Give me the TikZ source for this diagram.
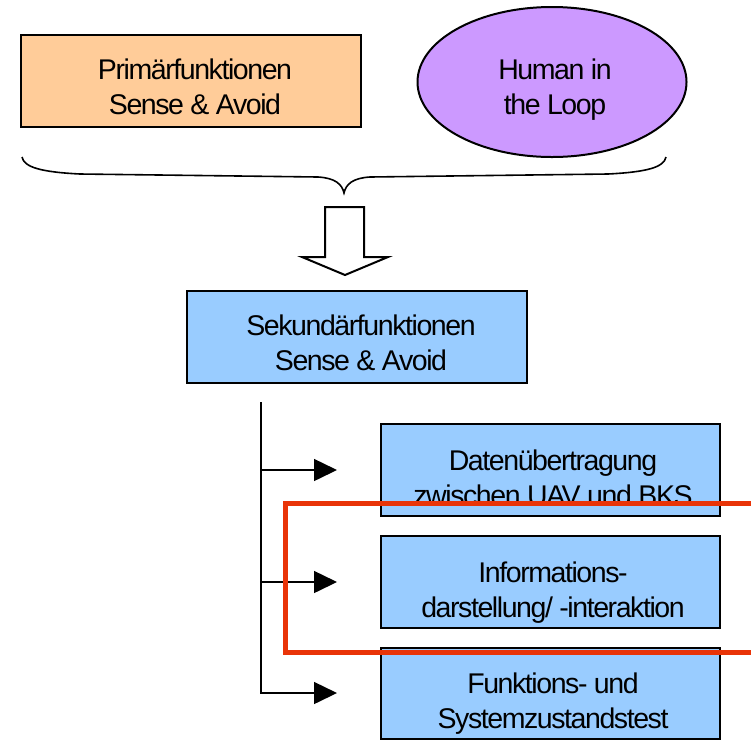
\documentclass[tikz,border=0pt]{standalone}
\usepackage{fontspec}
\setmainfont{Liberation Sans}[LetterSpace=-5]
\usetikzlibrary{arrows.meta,shapes.geometric}
\definecolor{orangefill}{RGB}{255,204,153}
\definecolor{purplefill}{RGB}{204,153,255}
\definecolor{bluefill}{RGB}{153,204,255}
\definecolor{redline}{RGB}{233,52,8}
\newcommand\twolines[2]{\begin{tabular}[t]{@{}c@{}}#1\\#2\end{tabular}}
\begin{document}
\begin{tikzpicture}[x=1pt,y=-1pt,
  box/.style={draw=black, line width=2pt, rectangle, inner sep=0pt, minimum width=340pt, minimum height=92pt},
  lbl/.style={anchor=base, inner sep=0pt, font=\fontsize{28.5}{35}\selectfont},
  conn/.style={line width=1.5pt},
  arr/.style={conn, -{Triangle[length=23pt,width=22pt]}},
  shapeline/.style={line width=2pt, line join=miter},
  highlight/.style={draw=redline, line width=5pt},
]
\useasboundingbox (0,0) rectangle (751,740);
\fill[white] (0,0) rectangle (751,740);

% top row
\node[box, fill=orangefill] (prim) at (191,81) {};
\node[lbl] (primtxt) at (195,79) {\twolines{Primärfunktionen}{Sense \& Avoid}};
\node[draw=black, ellipse, line width=2pt, fill=purplefill, minimum width=269pt, minimum height=150pt, inner sep=0pt] (hil) at (552,82) {};
\node[lbl] (hiltxt) at (555,79) {\twolines{Human in}{the Loop}};

% brace
\draw[line width=1.6pt] (22,157) .. controls (24,167) and (40,172) .. (80,174) -- (318,177)
  .. controls (335,178) and (342,184) .. (344,193)
  .. controls (346,184) and (353,178) .. (370,177) -- (608,174)
  .. controls (648,172) and (664,167) .. (666,157);

% hollow down arrow
\draw[shapeline, fill=white] (325,207) -- (364,207) -- (364,257) -- (388,257) -- (345,275) -- (302,257) -- (325,257) -- cycle;

% secondary box
\node[box, fill=bluefill] (sek) at (357,337) {};
\node[lbl] (sektxt) at (361,335) {\twolines{Sekundärfunktionen}{Sense \& Avoid}};

% sub boxes
\node[box, fill=bluefill, minimum width=339pt] (b1) at (550.5,470) {};
\node[lbl] (b1txt) at (553,470) {\twolines{Datenübertragung}{zwischen UAV und BKS}};
\node[box, fill=bluefill, minimum width=339pt] (b2) at (550.5,582) {};
\node[lbl] (b2txt) at (553,582) {\twolines{Informations-}{darstellung/ -interaktion}};
\node[box, fill=bluefill, minimum width=339pt, minimum height=91pt] (b3) at (550.5,693.5) {};
\node[lbl] (b3txt) at (553,693) {\twolines{Funktions- und}{Systemzustandstest}};

% connectors
\coordinate (vtop) at (261,402);
\coordinate (a1s) at (261,470);
\coordinate (a1e) at (337,470);
\coordinate (a2s) at (261,582);
\coordinate (a2e) at (337,582);
\coordinate (a3e) at (337,693);
\draw[arr] (vtop) |- (a3e);
\draw[arr] (a1s) -- (a1e);
\draw[arr] (a2s) -- (a2e);

% red highlight
\coordinate (r1) at (756,503);
\coordinate (r2) at (285,503);
\coordinate (r3) at (285,652);
\coordinate (r4) at (756,652);
\draw[highlight] (r1) -- (r2) -- (r3) -- (r4);
\end{tikzpicture}
\end{document}
